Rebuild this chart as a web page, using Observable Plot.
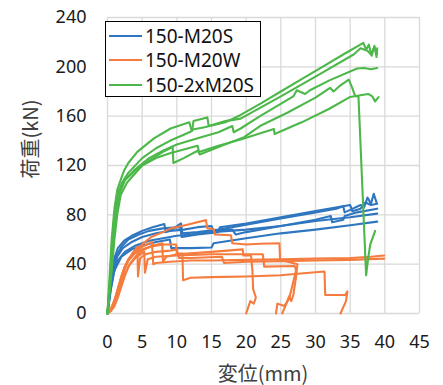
<!DOCTYPE html>
<html>
<head>
<meta charset="utf-8">
<script src="https://cdn.jsdelivr.net/npm/d3@7"></script>
<script src="https://cdn.jsdelivr.net/npm/@observablehq/plot@0.6"></script>
<style>
  body { margin: 0; background: #fff; }
  #wrap { position: relative; width: 443px; height: 385px; }
  #legend { position: absolute; left: 105px; top: 21px; width: 154px; height: 74px;
    border: 1.5px solid #000; background: #fff; font-family: "Noto Sans", sans-serif; font-size: 19px; color: #111; }
  .item { position: absolute; left: 0; height: 24px; display: flex; align-items: center; }
  .swatch { width: 33px; height: 0; border-top: 2.5px solid; margin-left: 3px; margin-right: 3px; }
</style>
</head>
<body>
<div id="wrap"></div>
<script>
const series = ["150-M20S", "150-M20W", "150-2xM20S"];
const colors = ["#2f76c0", "#f57c3e", "#4db84a"];
const xTicks = [0, 5, 10, 15, 20, 25, 30, 35, 40, 45];
const yTicks = [0, 40, 80, 120, 160, 200, 240];

// 150-M20S (blue)
const B1 = [[0,0],[0.3,20],[0.6,35],[1,45],[1.5,53],[2.4,59],[3.5,63],[5,67],[6.5,70],[8.2,72.5],[8.4,66],[9,67],[10.6,73],[10.8,65],[13,66],[16,68],[20,72],[25,77],[30,82],[33,85],[34,87],[34.2,82],[35,84],[36.5,88],[37,86],[37.5,94],[38,89],[38.4,97],[38.8,90]];
const B2 = [[0,0],[0.3,18],[0.7,35],[1.2,46],[2,54],[3,60],[4.5,64],[6,67],[8,69],[10.5,70],[10.7,62],[13,64],[16,66],[16.2,70],[20,73],[25,78],[30,83],[35,88],[35.3,83],[36.5,85],[37.2,90],[38,88],[38.9,89]];
const B3 = [[0,0],[0.4,20],[0.8,35],[1.4,46],[2.2,53],[3.5,58],[5,62],[7,65],[9,67],[11,68],[13,70],[15,71],[15.3,67],[18,68],[18.5,64],[20,66],[25,71],[30,76],[32.2,79],[32.4,74],[34,76],[34.2,79],[36,82],[38.9,85]];
const B4 = [[0,0],[0.4,18],[0.9,33],[1.5,43],[2.5,50],[4,55],[6,59],[8,61],[10,63],[12,64],[15,66],[20,68],[25,71],[30,75],[35,78],[38.9,81]];
const B5 = [[0,0],[0.5,20],[1,35],[2,46],[3.5,52],[5,55],[7,58],[9,60],[9.2,53],[12,53],[15,53.5],[15.3,57],[20,61],[25,65],[30,68],[35,71.5],[38.9,74.5]];

// 150-M20W (orange)
const O1 = [[0,0],[0.3,2],[0.8,6],[1.2,13],[1.6,22],[2,30],[2.5,38],[3,44],[4,51],[5,56],[6.3,62],[8,66],[9.1,69],[11.5,72],[14.2,75.7],[14.4,69],[15.3,68.5],[15.5,64],[17.8,63.5],[18,57],[20,56],[22,56.5],[24.8,57],[24.9,43],[26,42],[27.4,40],[27.2,30],[26.8,15],[26.5,10],[26.2,14],[25.8,8],[25.2,0]];
const O2 = [[0,0],[0.5,3],[1,10],[1.5,20],[2,29],[2.5,37],[3,43],[4,50],[5,54],[6.4,58],[6.6,40],[7,41],[9,42],[12,43],[15,43],[20,43.5],[25,44],[30,44.5],[35,45],[38,46],[39.9,47]];
const O3 = [[0,0],[0.6,4],[1.2,12],[1.8,24],[2.4,35],[3,43],[3.6,49],[4.3,54],[4.4,30],[4.7,45],[5.5,48],[7,50],[9,51],[10,52],[10.3,45],[12,45],[16.5,46],[16.8,41],[20,42],[25,42.5],[30,43],[35,43.5],[39.9,44.5]];
const O4 = [[0,0],[0.5,4],[1,11],[1.5,20],[2,30],[2.5,38],[3,43],[4,49],[5,52],[6,54],[7,55],[8,56],[9.9,56],[10,48.6],[10.8,48.6],[10.9,27],[12,29],[15,29.5],[20,30],[25,31],[27,32],[31.3,34],[31.4,15],[34.3,15],[34.6,18],[34.4,10],[33.6,0]];
const O5 = [[0,0],[0.5,2],[1,6],[1.5,13],[2,22],[2.6,32],[3.2,40],[4,46],[5,51],[6.5,55],[7.9,57],[8,42],[8.5,46],[10,48],[15,50],[19.5,52],[19.6,47],[20.7,47],[20.9,35],[21,20],[21.4,13],[21.1,8],[20.6,10],[20,0]];
const O6 = [[0,0],[0.8,5],[1.5,15],[2.2,28],[3,38],[4,45],[5.3,50],[5.4,33],[5.8,44],[7,46],[10,47],[15,48],[20,48],[22.4,48],[22.6,38],[27,38.5],[27.2,35],[26.2,12],[25.5,6],[24.5,8],[24.3,0]];

// 150-2xM20S (green)
const G1 = [[0,0],[0.3,30],[0.6,60],[1,85],[1.4,100],[2,110],[2.4,116],[3,122],[4.3,131],[6.7,142],[9.1,150],[11.8,155],[12.1,149],[14,151],[17,155],[19.2,161],[22,170],[25,180],[28,190],[31,200],[34,210],[36.9,219.4],[37.3,214],[37.7,218],[38.1,209],[38.5,217],[38.8,208],[38.9,215]];
const G2 = [[0,0],[0.4,30],[0.8,60],[1.2,85],[1.7,100],[2.3,108],[3,114],[5,126],[7,134],[9,140],[11,145],[12.2,148],[12.4,156],[14.4,159],[14.6,152],[17,156],[19.2,158],[25,176],[30,192],[35.5,210],[36.5,215],[37.5,213],[38,210],[38.5,216],[38.9,211]];
const G3 = [[0,0],[0.4,30],[0.8,60],[1.2,82],[1.6,98],[2.1,106],[4,117],[6,126],[8,132],[10,137],[13,142],[16,147],[18,152],[18.2,147],[19.2,150],[22,160],[26.8,176],[27.3,181],[28.5,178],[29.2,181],[32,189],[36,198.6],[37,199],[38,198],[38.9,199]];
const G4 = [[0,0],[0.4,28],[0.9,60],[1.3,82],[1.8,98],[2.5,108],[4,116],[6,124],[8,131],[9.4,135],[9.5,122],[11,126],[13,132],[13.3,129],[16,135],[19.7,143],[22,152],[26,163],[30,175],[32.1,183],[32.6,180],[33.6,185],[34.8,189.7],[35.3,183],[35.7,176.6],[36.2,175.6],[37.3,31],[37.6,45],[37.9,56],[38.6,67]];
const G5 = [[0,0],[0.5,28],[1,60],[1.4,80],[1.9,96],[2.8,106],[5,120],[7,126],[9,130],[11,133],[13,136],[13.2,131],[16,136],[19.2,141],[24,149.5],[24.1,145.5],[28,155],[32,166],[35,175.6],[36.5,177],[37.6,178],[38.2,176],[38.6,172],[39.1,175.5]];

const groups = [
  [series[0], [B1, B2, B3, B4, B5]],
  [series[1], [O1, O2, O3, O4, O5, O6]],
  [series[2], [G1, G2, G3, G4, G5]]
];
const rows = [];
groups.forEach(([s, curves]) => curves.forEach((c, i) =>
  c.forEach(([x, y]) => rows.push({series: s, id: s + "#" + i, x, y}))));

const grid = {stroke: "#d9d9d9", strokeOpacity: 1, strokeWidth: 1.3};
const plot = Plot.plot({
  width: 443, height: 385,
  marginLeft: 107, marginRight: 24, marginTop: 17, marginBottom: 72,
  style: {fontFamily: '"Noto Sans", sans-serif', fontSize: "18px", color: "#1a1a1a", background: "#fff", overflow: "visible"},
  x: {domain: [0, 45], label: null},
  y: {domain: [0, 240], label: null},
  color: {domain: series, range: colors},
  marks: [
    Plot.gridX(xTicks, grid),
    Plot.gridY(yTicks, grid),
    Plot.axisX(xTicks, {tickSize: 0, tickPadding: 22, fontSize: 18, label: null}),
    Plot.axisY(yTicks, {tickSize: 0, tickPadding: 21, fontSize: 18, label: null}),
    Plot.line(rows, {x: "x", y: "y", z: "id", stroke: "series", strokeWidth: 2.1, strokeLinejoin: "round", strokeLinecap: "round"})
  ]
});

const svg = d3.select(plot);
svg.append("text").attr("x", 263).attr("y", 372)
  .attr("text-anchor", "middle").attr("dominant-baseline", "central")
  .style("font-family", '"Noto Sans CJK JP", sans-serif').style("font-size", "20px").attr("fill", "#404040")
  .text("変位(mm)");
svg.append("text").attr("transform", "translate(29,139) rotate(-90)")
  .attr("text-anchor", "middle").attr("dominant-baseline", "central")
  .style("font-family", '"Noto Sans CJK JP", sans-serif').style("font-size", "20px").attr("fill", "#404040")
  .text("荷重(kN)");

const wrap = document.getElementById("wrap");
wrap.appendChild(plot);
const legend = document.createElement("div");
legend.id = "legend";
series.forEach((s, i) => {
  const item = document.createElement("div");
  item.className = "item";
  item.style.top = (1.5 + i * 24.7) + "px";
  const sw = document.createElement("span");
  sw.className = "swatch";
  sw.style.borderTopColor = colors[i];
  const t = document.createElement("span");
  t.textContent = s;
  item.appendChild(sw); item.appendChild(t);
  legend.appendChild(item);
});
wrap.appendChild(legend);
</script>
</body>
</html>
